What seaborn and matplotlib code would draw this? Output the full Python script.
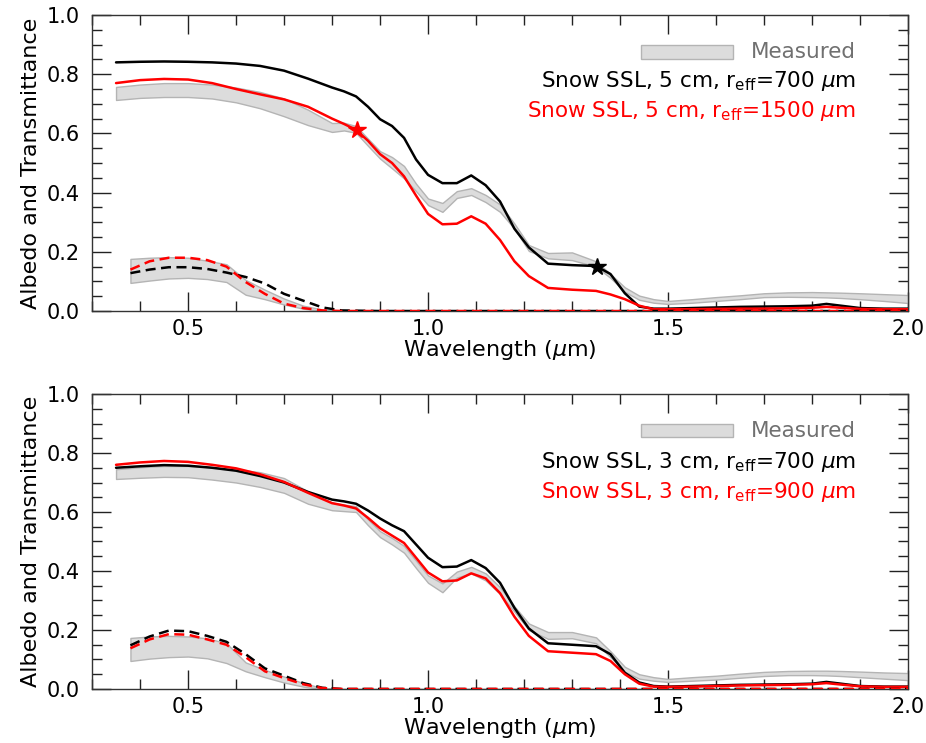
import numpy as np
import pandas as pd
import matplotlib
matplotlib.use("Agg")
import matplotlib.pyplot as plt
from matplotlib.ticker import MultipleLocator
from matplotlib.patches import Rectangle
import seaborn as sns

# ---------------- data ----------------
wl_a = [0.35, 0.40, 0.45, 0.50, 0.55, 0.60, 0.65, 0.70, 0.75, 0.80, 0.825, 0.85, 0.875, 0.90, 0.925, 0.95,
        0.975, 1.00, 1.03, 1.06, 1.09, 1.12, 1.15, 1.18, 1.21, 1.25, 1.30, 1.35, 1.38, 1.41,
        1.44, 1.47, 1.50, 1.55, 1.60, 1.65, 1.70, 1.75, 1.80, 1.83, 1.86, 1.90, 1.95, 2.00]

# top panel: Snow SSL 5 cm
top_alb_700 = [0.840, 0.842, 0.843, 0.842, 0.840, 0.836, 0.828, 0.812, 0.785, 0.755, 0.742, 0.725, 0.690, 0.648, 0.625, 0.585,
               0.512, 0.460, 0.432, 0.432, 0.458, 0.425, 0.370, 0.278, 0.215, 0.160, 0.155, 0.152, 0.125, 0.060,
               0.015, 0.008, 0.008, 0.010, 0.012, 0.014, 0.015, 0.016, 0.018, 0.024, 0.018, 0.010, 0.008, 0.008]
top_alb_1500 = [0.770, 0.780, 0.784, 0.782, 0.770, 0.750, 0.732, 0.715, 0.690, 0.650, 0.632, 0.612, 0.575, 0.530, 0.500, 0.455,
                0.390, 0.328, 0.293, 0.295, 0.320, 0.295, 0.240, 0.168, 0.118, 0.078, 0.072, 0.068, 0.056, 0.040,
                0.018, 0.006, 0.006, 0.006, 0.007, 0.008, 0.008, 0.009, 0.011, 0.014, 0.011, 0.007, 0.006, 0.006]
top_meas_hi = [0.757, 0.765, 0.770, 0.770, 0.765, 0.755, 0.740, 0.718, 0.680, 0.635, 0.636, 0.625, 0.582, 0.540, 0.520, 0.490,
               0.430, 0.380, 0.365, 0.405, 0.415, 0.392, 0.360, 0.295, 0.223, 0.196, 0.198, 0.168, 0.125, 0.080,
               0.052, 0.040, 0.034, 0.040, 0.047, 0.053, 0.060, 0.063, 0.064, 0.063, 0.062, 0.060, 0.057, 0.054]
top_meas_lo = [0.713, 0.720, 0.723, 0.723, 0.718, 0.705, 0.685, 0.658, 0.628, 0.605, 0.610, 0.602, 0.558, 0.515, 0.482, 0.448,
               0.405, 0.358, 0.335, 0.382, 0.392, 0.368, 0.335, 0.278, 0.203, 0.178, 0.172, 0.150, 0.112, 0.065,
               0.038, 0.028, 0.024, 0.028, 0.034, 0.040, 0.047, 0.048, 0.047, 0.046, 0.044, 0.040, 0.034, 0.027]

# bottom panel: Snow SSL 3 cm
bot_alb_700 = [0.750, 0.755, 0.759, 0.757, 0.750, 0.740, 0.722, 0.700, 0.668, 0.642, 0.636, 0.628, 0.605, 0.578, 0.555, 0.535,
               0.490, 0.445, 0.413, 0.415, 0.437, 0.410, 0.360, 0.275, 0.205, 0.155, 0.150, 0.145, 0.118, 0.055,
               0.022, 0.010, 0.008, 0.010, 0.012, 0.014, 0.015, 0.016, 0.018, 0.024, 0.018, 0.010, 0.008, 0.008]
bot_alb_900 = [0.760, 0.768, 0.773, 0.770, 0.760, 0.748, 0.728, 0.702, 0.665, 0.630, 0.622, 0.612, 0.580, 0.545, 0.520, 0.495,
               0.445, 0.395, 0.365, 0.368, 0.392, 0.375, 0.325, 0.245, 0.180, 0.128, 0.123, 0.118, 0.095, 0.050,
               0.018, 0.008, 0.007, 0.008, 0.010, 0.012, 0.013, 0.014, 0.016, 0.020, 0.015, 0.009, 0.007, 0.007]
bot_meas_hi = [0.745, 0.752, 0.756, 0.756, 0.752, 0.745, 0.735, 0.715, 0.670, 0.632, 0.625, 0.620, 0.575, 0.535, 0.512, 0.485,
               0.435, 0.385, 0.358, 0.398, 0.414, 0.392, 0.345, 0.280, 0.222, 0.193, 0.193, 0.175, 0.128, 0.075,
               0.050, 0.040, 0.034, 0.040, 0.045, 0.052, 0.058, 0.061, 0.062, 0.062, 0.061, 0.059, 0.056, 0.054]
bot_meas_lo = [0.712, 0.716, 0.719, 0.718, 0.710, 0.700, 0.685, 0.665, 0.628, 0.606, 0.603, 0.600, 0.555, 0.515, 0.490, 0.462,
               0.410, 0.360, 0.328, 0.378, 0.392, 0.368, 0.322, 0.262, 0.200, 0.170, 0.172, 0.155, 0.108, 0.058,
               0.035, 0.028, 0.024, 0.028, 0.032, 0.038, 0.044, 0.047, 0.047, 0.046, 0.044, 0.040, 0.035, 0.030]

# transmittance
wl_t = [0.38, 0.42, 0.46, 0.50, 0.54, 0.58, 0.62, 0.66, 0.70, 0.74, 0.78, 0.82, 0.90, 1.00,
        1.20, 1.40, 1.60, 1.80, 2.00]
top_tr_700 = [0.128, 0.140, 0.148, 0.148, 0.142, 0.130, 0.115, 0.093, 0.058, 0.035, 0.012, 0.002, 0.0, 0.0,
              0.0, 0.0, 0.0, 0.0, 0.0]
top_tr_1500 = [0.140, 0.168, 0.180, 0.180, 0.172, 0.150, 0.098, 0.058, 0.025, 0.010, 0.002, 0.0, 0.0, 0.0,
               0.0, 0.0, 0.0, 0.0, 0.0]
top_trm_hi = [0.176, 0.180, 0.182, 0.180, 0.170, 0.158, 0.105, 0.072, 0.042, 0.018, 0.005, 0.0, 0.0, 0.0,
              0.0, 0.0, 0.0, 0.0, 0.0]
top_trm_lo = [0.095, 0.103, 0.110, 0.112, 0.108, 0.098, 0.055, 0.040, 0.022, 0.008, 0.0, 0.0, 0.0, 0.0,
              0.0, 0.0, 0.0, 0.0, 0.0]
bot_tr_700 = [0.148, 0.178, 0.198, 0.196, 0.180, 0.160, 0.118, 0.070, 0.045, 0.020, 0.004, 0.0, 0.0, 0.0,
              0.0, 0.0, 0.0, 0.0, 0.0]
bot_tr_900 = [0.138, 0.168, 0.186, 0.184, 0.168, 0.150, 0.108, 0.060, 0.037, 0.016, 0.003, 0.0, 0.0, 0.0,
              0.0, 0.0, 0.0, 0.0, 0.0]
bot_trm_hi = [0.173, 0.178, 0.180, 0.178, 0.172, 0.155, 0.090, 0.065, 0.042, 0.020, 0.003, 0.0, 0.0, 0.0,
              0.0, 0.0, 0.0, 0.0, 0.0]
bot_trm_lo = [0.095, 0.103, 0.108, 0.110, 0.104, 0.088, 0.060, 0.040, 0.022, 0.008, 0.0, 0.0, 0.0, 0.0,
              0.0, 0.0, 0.0, 0.0, 0.0]

star_top_wl = [0.852, 1.352]
star_top_val = [0.612, 0.149]
star_colors = ["red", "black"]

top_labels = ["Measured", "Snow SSL, 5 cm, r$_{\\rm eff}$=700 $\\mu$m",
              "Snow SSL, 5 cm, r$_{\\rm eff}$=1500 $\\mu$m"]
bot_labels = ["Measured", "Snow SSL, 3 cm, r$_{\\rm eff}$=700 $\\mu$m",
              "Snow SSL, 3 cm, r$_{\\rm eff}$=900 $\\mu$m"]

# ---------------- plotting ----------------
sns.set_theme(style="ticks")
plt.rcParams["font.family"] = ["DejaVu Sans"]
plt.rcParams["mathtext.fontset"] = "dejavusans"
plt.rcParams["text.color"] = "black"
plt.rcParams["axes.labelcolor"] = "black"

fig = plt.figure(figsize=(9.26, 7.43), dpi=100)
ax1 = fig.add_axes([0.0994, 0.5814, 0.8812, 0.3984])
ax2 = fig.add_axes([0.0994, 0.0727, 0.8812, 0.3970])

MEAS_FACE = "#dcdcdc"
MEAS_EDGE = "#b4b4b4"


def draw_panel(ax, m_hi, m_lo, a_black, a_red, t_hi, t_lo, t_black, t_red, labels, ytxt):
    ax.fill_between(wl_a, m_lo, m_hi, facecolor=MEAS_FACE, edgecolor=MEAS_EDGE, linewidth=1.0, zorder=1)
    ax.fill_between(wl_t, t_lo, t_hi, facecolor=MEAS_FACE, edgecolor=MEAS_EDGE, linewidth=1.0, zorder=1)
    df = pd.DataFrame({"wl": wl_a, "black": a_black, "red": a_red})
    sns.lineplot(data=df, x="wl", y="black", ax=ax, color="black", linewidth=1.8, zorder=3)
    sns.lineplot(data=df, x="wl", y="red", ax=ax, color="red", linewidth=1.8, zorder=3)
    dft = pd.DataFrame({"wl": wl_t, "black": t_black, "red": t_red})
    sns.lineplot(data=dft, x="wl", y="black", ax=ax, color="black", linewidth=1.8,
                 linestyle=(0, (4, 2.2)), zorder=3)
    sns.lineplot(data=dft, x="wl", y="red", ax=ax, color="red", linewidth=1.8,
                 linestyle=(0, (4, 2.2)), zorder=3)

    ax.set_xlim(0.3, 2.0)
    ax.set_ylim(0.0, 1.0)
    ax.xaxis.set_major_locator(MultipleLocator(0.5))
    ax.xaxis.set_minor_locator(MultipleLocator(0.1))
    ax.yaxis.set_major_locator(MultipleLocator(0.2))
    ax.yaxis.set_minor_locator(MultipleLocator(0.05))
    ax.tick_params(which="both", direction="in", top=True, right=True, width=1.0,
                   color="#222222", labelcolor="black")
    ax.tick_params(which="major", length=14, labelsize=15)
    ax.tick_params(axis="x", which="major", pad=6)
    ax.tick_params(axis="y", which="major", pad=9)
    ax.tick_params(which="minor", length=7)
    for s in ax.spines.values():
        s.set_linewidth(1.0)
        s.set_color("#333333")
    ax.set_xlabel("Wavelength ($\\mu$m)", fontsize=16, labelpad=-1, color="black")
    ax.set_ylabel("Albedo and Transmittance", fontsize=16, labelpad=4, color="black")

    # legend
    ax.add_patch(Rectangle((0.673, ytxt[0] - 0.022), 0.113, 0.044, transform=ax.transAxes,
                           facecolor=MEAS_FACE, edgecolor=MEAS_EDGE, linewidth=1.0, zorder=5))
    ax.text(0.936, ytxt[0], labels[0], transform=ax.transAxes, ha="right", va="center",
            fontsize=15.5, color="#707070")
    ax.text(0.936, ytxt[1], labels[1], transform=ax.transAxes, ha="right", va="center",
            fontsize=15.5, color="black")
    ax.text(0.936, ytxt[2], labels[2], transform=ax.transAxes, ha="right", va="center",
            fontsize=15.5, color="red")


draw_panel(ax1, top_meas_hi, top_meas_lo, top_alb_700, top_alb_1500,
           top_trm_hi, top_trm_lo, top_tr_700, top_tr_1500, top_labels, [0.875, 0.778, 0.675])
for w, v, c in zip(star_top_wl, star_top_val, star_colors):
    ax1.plot([w], [v], marker="*", color=c, markersize=13, linestyle="none", zorder=6)

draw_panel(ax2, bot_meas_hi, bot_meas_lo, bot_alb_700, bot_alb_900,
           bot_trm_hi, bot_trm_lo, bot_tr_700, bot_tr_900, bot_labels, [0.875, 0.770, 0.668])

fig.savefig("out.png", dpi=100)
